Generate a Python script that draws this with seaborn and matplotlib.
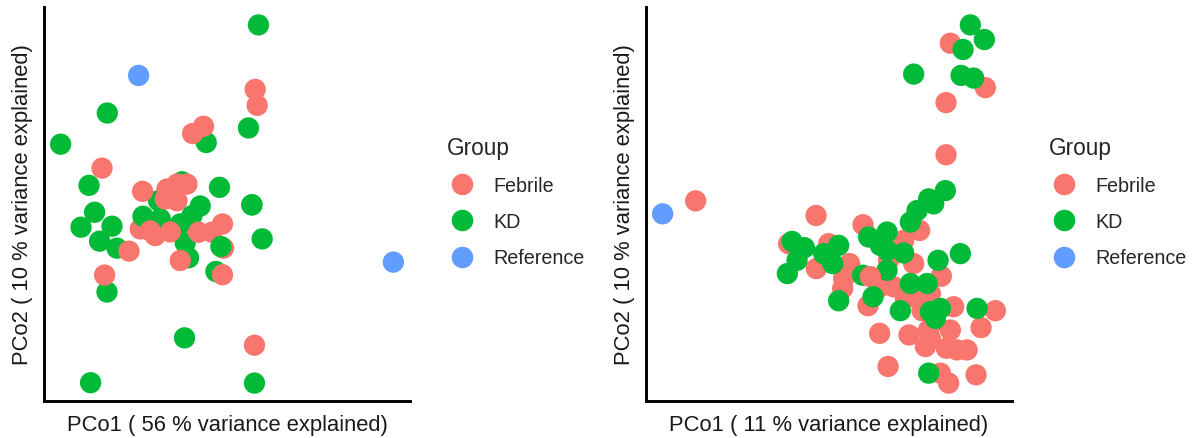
import numpy as np
import pandas as pd
import matplotlib
matplotlib.use("Agg")
import matplotlib.pyplot as plt
import seaborn as sns

sns.set_theme(style="white")
plt.rcParams['font.family'] = ['Liberation Sans', 'DejaVu Sans']

groups = ["Febrile", "KD", "Reference"]
palette = {"Febrile": "#F8766D", "KD": "#00BA38", "Reference": "#619CFF"}

# ---- Panel 1 (PCo1 56 %, PCo2 10 %) ----
p1_group = (["KD"] * 12 + ["Febrile"] * 12 + ["KD"] * 14 + ["Febrile"] * 11 + ["KD"] * 4 + ["Febrile"] * 1 + ["Reference"] * 2)
p1_x = [258.3, 107.0, 248.3, 206.0, 60.3, 88.7, 219.3, 181.7, 251.7, 158.3, 200.0, 94.3,
        255.0, 257.0, 203.3, 192.3, 101.7, 142.3, 166.7, 176.7, 186.7, 176.7, 140.0, 155.0,
        80.7, 111.7, 142.7, 160.0, 191.7, 180.0, 99.3, 116.7, 185.0, 262.0, 188.3, 215.7, 106.7, 251.7,
        198.3, 211.7, 222.3, 128.7, 223.3, 180.0, 222.3, 104.3, 165.0, 150.0, 170.0,
        220.7, 184.3, 90.3, 254.3,
        254.3,
        138.3, 393.3]
p1_y = [25.3, 113.7, 128.7, 143.3, 145.0, 186.3, 188.3, 182.7, 205.7, 201.7, 207.0, 213.3,
        90.0, 106.0, 127.0, 134.3, 169.0, 192.3, 190.0, 185.0, 185.0, 201.7, 230.0, 236.7,
        228.3, 227.3, 217.3, 220.0, 216.7, 225.0, 242.3, 249.3, 244.0, 240.0, 259.0, 272.7, 293.3, 206.0,
        233.3, 233.3, 225.0, 252.3, 249.3, 261.7, 276.0, 276.3, 200.0, 232.0, 233.0,
        247.7, 339.3, 384.3, 384.7,
        346.7,
        76.0, 263.3]

# ---- Panel 2 (PCo1 11 %, PCo2 10 %) ----
p2_group = (["Febrile"] * 9 + ["KD"] * 10 + ["Febrile"] * 12 + ["KD"] * 16 + ["Febrile"] * 16 + ["KD"] * 11 + ["Febrile"] * 4 + ["Reference"] * 1
            + ["KD", "Febrile", "KD"])
p2_x = [950.0, 985.0, 945.7, 945.7, 695.3, 815.7, 919.3, 862.7, 903.3,
        970.0, 984.0, 962.7, 913.3, 960.7, 973.3, 945.0, 928.3, 933.0, 916.7,
        788.3, 828.3, 816.0, 849.3, 843.3, 842.3, 888.3, 913.3, 941.0, 880.0, 893.3, 916.7,
        933.3, 910.0, 868.3, 886.7, 880.0, 886.7, 903.3, 791.7, 804.0, 838.3, 823.3, 796.7, 832.3, 787.0, 862.3, 886.7,
        930.0, 867.7, 921.7, 953.3, 995.0, 980.7, 879.3, 930.0, 956.7, 966.7, 887.7, 940.0, 948.3, 975.7, 870.0, 905.0,
        960.0, 937.7, 910.0, 926.7, 872.7, 838.3, 900.0, 930.0, 940.0, 976.7, 933.3,
        950.0, 908.7, 925.0, 946.0,
        662.3,
        928.3, 928.0, 935.0]
p2_y = [43.7, 88.3, 103.3, 155.7, 202.0, 216.7, 231.7, 226.0, 241.7,
        25.3, 40.0, 50.0, 74.7, 76.0, 78.7, 191.7, 200.0, 203.0, 211.7,
        245.0, 245.0, 270.0, 265.0, 280.0, 290.0, 261.7, 265.0, 277.7, 288.3, 288.3, 295.0,
        205.0, 223.3, 238.3, 233.3, 246.7, 251.7, 254.3, 242.7, 249.0, 246.7, 255.0, 261.7, 265.0, 275.0, 276.7, 271.7,
        295.0, 307.3, 312.3, 308.3, 312.3, 329.3, 335.0, 340.0, 351.7, 351.7, 368.3, 375.0, 385.0, 376.7, 278.0, 300.0,
        255.0, 261.7, 285.0, 285.0, 298.3, 302.3, 312.3, 313.3, 310.0, 310.0, 323.3,
        331.7, 336.7, 348.3, 350.0,
        215.0,
        375.0, 332.0, 320.0]

panels = [
    (p1_x, p1_y, p1_group, "PCo1 ( 56 % variance explained)", "PCo2 ( 10 % variance explained)"),
    (p2_x, p2_y, p2_group, "PCo1 ( 11 % variance explained)", "PCo2 ( 10 % variance explained)"),
]

W, H = 1195, 439
fig = plt.figure(figsize=(W / 100, H / 100), dpi=100)
ax_rects = [(44, 8, 410, 402), (646, 8, 1012, 402)]
legend_anchor = [(447, 137), (1049, 137)]

for (xs, ys, gs, xl, yl), (x0, y0, x1, y1), (lx, ly) in zip(panels, ax_rects, legend_anchor):
    ax = fig.add_axes([x0 / W, 1 - y1 / H, (x1 - x0) / W, (y1 - y0) / H])
    df = pd.DataFrame({"PCo1": xs, "PCo2": [-v for v in ys], "Group": gs})
    sns.scatterplot(data=df, x="PCo1", y="PCo2", hue="Group", hue_order=groups,
                    palette=palette, s=235, linewidth=0, alpha=1, ax=ax, legend=True)
    xmn, xmx = df.PCo1.min(), df.PCo1.max()
    ymn, ymx = df.PCo2.min(), df.PCo2.max()
    ex, ey = 0.05 * (xmx - xmn), 0.05 * (ymx - ymn)
    ax.set_xlim(xmn - ex, xmx + ex)
    ax.set_ylim(ymn - ey, ymx + ey)
    ax.set_xticks([])
    ax.set_yticks([])
    for s in ["top", "right"]:
        ax.spines[s].set_visible(False)
    for s in ["left", "bottom"]:
        ax.spines[s].set_color("black")
        ax.spines[s].set_linewidth(2.1)
    ax.set_xlabel(xl, fontsize=15.8, labelpad=9.5, color="#1a1a1a")
    ax.set_ylabel(yl, fontsize=15.8, labelpad=8, color="#1a1a1a")
    leg = ax.legend(title="Group", loc="upper left",
                    bbox_to_anchor=(lx / W, 1 - ly / H), bbox_transform=fig.transFigure,
                    frameon=False, fontsize=14.2, title_fontsize=16.3,
                    handlelength=1.55, handletextpad=0.82, labelspacing=0.87,
                    borderpad=0, borderaxespad=0)
    leg._legend_box.align = "left"
    for h in leg.legend_handles:
        h.set_markersize(15.5)

fig.savefig("out.png", dpi=100)
